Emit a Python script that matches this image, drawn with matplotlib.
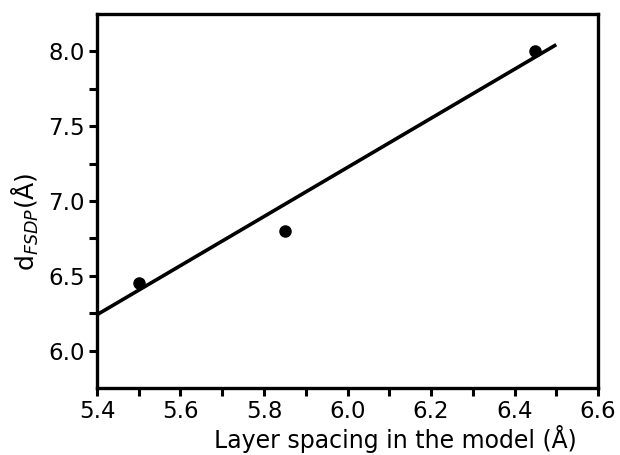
import matplotlib
matplotlib.use("Agg")
import matplotlib.pyplot as plt
import numpy as np

# data points
layer_spacing = [5.50, 5.85, 6.45]
d_fsdp = [6.45, 6.80, 8.00]
# fitted line endpoints
fit_x = [5.40, 6.50]
fit_y = [6.24, 8.045]

x_ticks = [5.4, 5.6, 5.8, 6.0, 6.2, 6.4, 6.6]
x_ticklabels = ["5.4", "5.6", "5.8", "6.0", "6.2", "6.4", "6.6"]
y_ticks = [6.0, 6.5, 7.0, 7.5, 8.0]
y_ticklabels = ["6.0", "6.5", "7.0", "7.5", "8.0"]

fig = plt.figure(figsize=(6.2, 4.55), dpi=100)
ax = fig.add_axes([97/620, 1-388/455, (598-97)/620, (388-14)/455])

ax.plot(fit_x, fit_y, color="black", lw=2.6, solid_capstyle="butt")
ax.plot(layer_spacing, d_fsdp, "o", color="black", ms=8)

ax.set_xlim(5.4, 6.6)
ax.set_ylim(5.75, 8.25)
ax.set_xticks(x_ticks)
ax.set_xticklabels(x_ticklabels)
ax.set_yticks(y_ticks)
ax.set_yticklabels(y_ticklabels)
ax.set_xticks(np.arange(5.5, 6.6, 0.2), minor=True)
ax.set_yticks([6.25, 6.75, 7.25, 7.75], minor=True)

for s in ax.spines.values():
    s.set_linewidth(2.4)
ax.tick_params(which="both", direction="out", width=2.2, length=6, labelsize=16.5, pad=3)

ax.set_xlabel("Layer spacing in the model (Å)", fontsize=17)
ax.xaxis.set_label_coords(0.595, -0.098)
ax.set_ylabel(r"d$_{\mathit{FSDP}}$(Å)", fontsize=18)
ax.yaxis.set_label_coords(-0.112, 0.444)

fig.savefig("out.png", dpi=100)
